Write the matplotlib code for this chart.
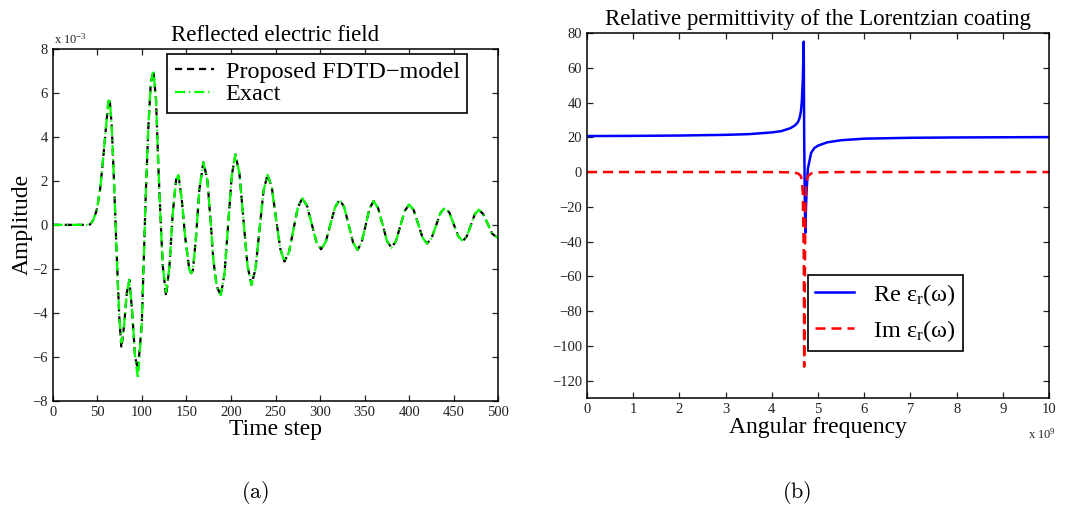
import matplotlib
matplotlib.use("Agg")
import matplotlib.pyplot as plt

plt.rcParams["font.family"] = ["Liberation Serif", "DejaVu Serif"]
plt.rcParams["mathtext.fontset"] = "custom"
plt.rcParams["mathtext.rm"] = "Liberation Serif"
plt.rcParams["mathtext.it"] = "Liberation Serif:italic"
plt.rcParams["axes.linewidth"] = 1.1

# (a) reflected field, amplitude in units of 1e-3
TIME_STEP = [
    0, 20, 40, 42, 45.6, 49.4, 53.1, 56.8, 59.8, 62.4, 63.8, 66.2, 68.8,
    71.0, 73.0, 74.7, 77.0, 80.0, 83.1, 86.0, 89.0, 92.4, 95.6, 99.9,
    102.5, 104.4, 107.3, 110.0, 112.9, 115.9, 118.5, 121.2, 123.5, 127.2,
    130.9, 134.7, 138.4, 141.0, 144.8, 148.5, 153.3, 155.4, 157.3, 160.8,
    164.5, 169.0, 173.5, 177.3, 180.2, 184.0, 188.5, 192.6, 196.8, 200.9,
    205.0, 209.5, 214.0, 218.5, 223.0, 227.5, 232.0, 236.5, 241.0, 245.8,
    250.5, 255.3, 260.0, 265, 270, 275, 280, 285.3, 290.5, 295.8, 301,
    306.3, 311.5, 316.8, 322, 327, 332, 337, 342, 346.5, 351, 355.5, 360,
    365, 370, 375, 380, 385, 390, 395, 400, 405, 410, 415, 420, 425, 430,
    435, 440, 445, 450, 455, 460, 464.5, 469, 473.5, 478, 483, 488, 493, 500,
]
AMP_FDTD = [
    0, 0, 0, 0.02, 0.23, 0.68, 1.6, 3.1, 4.47, 5.6, 5.75, 4.5, 1.9,
    -0.53, -2.6, -4.2, -5.6, -4.6, -3.1, -2.5, -3.9, -6.0, -6.6, -4.5,
    -1.1, 1.45, 4.47, 6.44, 7.0, 5.68, 2.65, 0.07, -1.9, -3.25,
    -1.9, 0.54, 2.05, 2.27, 1.14, -0.53, -2.05, -2.2, -2.05, -0.53,
    1.6, 2.85, 2.05, 0.07, -1.6, -2.8, -3.2, -2.26, 0, 2.26,
    3.2, 2.33, 0.24, -1.86, -2.73, -2.0, -0.22, 1.55, 2.28, 1.70,
    0.3, -1.09, -1.67, -1.25, -0.23, 0.79, 1.21, 0.87, 0.05, -0.77, -1.11,
    -0.78, 0.02, 0.81, 1.14, 0.81, 0, -0.81, -1.14, -0.81, -0.03, 0.75, 1.08,
    0.77, 0.02, -0.73, -1.04, -0.75, -0.05, 0.64, 0.93, 0.67, 0.04, -0.59, -0.85, -0.61, -0.04,
    0.54, 0.78, 0.56, 0.02, -0.52, -0.74, -0.53, -0.03, 0.48, 0.69, 0.49, 0.05, -0.4, -0.62,
]
AMP_EXACT = [
    0, 0, 0, 0.02, 0.23, 0.68, 1.6, 3.1, 4.47, 5.6, 5.75, 4.5, 1.9,
    -0.53, -2.6, -4.2, -5.35, -4.6, -3.1, -2.5, -3.9, -6.0, -7.0, -4.5,
    -1.1, 1.45, 4.47, 6.44, 7.05, 5.68, 2.65, 0.07, -1.9, -3.05,
    -1.9, 0.54, 2.05, 2.27, 1.14, -0.53, -2.05, -2.2, -2.05, -0.53,
    1.6, 2.85, 2.05, 0.07, -1.6, -2.8, -3.2, -2.26, 0, 2.26,
    3.2, 2.33, 0.24, -1.86, -2.73, -2.0, -0.22, 1.55, 2.28, 1.70,
    0.3, -1.09, -1.67, -1.25, -0.23, 0.79, 1.21, 0.87, 0.05, -0.77, -1.11,
    -0.78, 0.02, 0.81, 1.14, 0.81, 0, -0.81, -1.14, -0.81, -0.03, 0.75, 1.08,
    0.77, 0.02, -0.73, -1.04, -0.75, -0.05, 0.64, 0.93, 0.67, 0.04, -0.59, -0.85, -0.61, -0.04,
    0.54, 0.78, 0.56, 0.02, -0.52, -0.74, -0.53, -0.03, 0.48, 0.69, 0.49, 0.05, -0.4, -0.62,
]

# (b) Lorentzian permittivity, frequency in units of 1e9
FREQ = [0, 1, 2, 3, 3.5, 4, 4.2, 4.4, 4.5, 4.56, 4.6, 4.63, 4.65, 4.67, 4.69,
        4.70, 4.715, 4.725, 4.735, 4.75, 4.78, 4.85, 4.92, 5.0, 5.2, 5.5, 6,
        7, 8, 9, 10]
EPS_RE = [20.7, 20.8, 21.0, 21.4, 21.8, 22.8, 23.5, 25.2, 26.8, 28.5, 31, 35,
          41, 53, 75, 20, -20, -35, -24, -12, 2, 11, 13.8, 15.2, 17.1, 18.3,
          19.2, 19.7, 19.9, 20.0, 20.1]
EPS_IM = [0, 0, 0, 0, 0, -0.05, -0.1, -0.2, -0.4, -0.8, -1.5, -2.5, -5, -12,
          -45, -112, -60, -25, -12, -6, -2.5, -0.8, -0.4, -0.2, -0.1, -0.05,
          0, 0, 0, 0, 0]


def style_axes(ax):
    ax.tick_params(direction="in", top=True, right=True, length=4.5,
                   width=0.9, labelsize=10.5, colors="#222222")
    for spine in ax.spines.values():
        spine.set_color("black")


fig = plt.figure(figsize=(10.72, 5.13), dpi=100)

# ---- left panel
ax1 = fig.add_axes([0.0492, 0.2189, 0.4157, 0.6856])
ax1.plot(TIME_STEP, AMP_FDTD, color="black", linestyle="--", dashes=(3.2, 2.2),
         linewidth=1.6, label="Proposed FDTD\u2212model")
ax1.plot(TIME_STEP, AMP_EXACT, color="#00ff00", linestyle="-.",
         dashes=(4.5, 1.8, 0.6, 1.8), linewidth=1.6, label="Exact")
ax1.set_xlim(0, 500)
ax1.set_ylim(-8, 8)
ax1.set_xticks(range(0, 501, 50))
ax1.set_yticks(range(-8, 9, 2))
style_axes(ax1)
ax1.set_title("Reflected electric field", fontsize=16.5, pad=6)
ax1.set_xlabel("Time step", fontsize=17, labelpad=0)
ax1.set_ylabel("Amplitude", fontsize=17, labelpad=0)
ax1.text(0.003, 1.008, r"x 10$^{-3}$", transform=ax1.transAxes,
         fontsize=9, ha="left", va="bottom", color="#222222")
ax1.legend(loc="upper right", bbox_to_anchor=(0.93, 0.987), borderaxespad=0,
           fontsize=17.5, fancybox=False, edgecolor="black", framealpha=1,
           handlelength=1.6, handletextpad=0.5, labelspacing=0.02,
           borderpad=0.3).get_frame().set_linewidth(1.2)

# ---- right panel
ax2 = fig.add_axes([0.5476, 0.2242, 0.431, 0.7115])
ax2.plot(FREQ, EPS_RE, color="#0000ff", linewidth=1.8,
         label="Re \u03b5$_\\mathrm{r}$(\u03c9)")
ax2.plot(FREQ, EPS_IM, color="#ff0000", linestyle="--", dashes=(4, 2.4),
         linewidth=1.8, label="Im \u03b5$_\\mathrm{r}$(\u03c9)")
ax2.set_xlim(0, 10)
ax2.set_ylim(-130, 80)
ax2.set_xticks(range(0, 11))
ax2.set_yticks(range(-120, 81, 20))
style_axes(ax2)
ax2.set_title("Relative permittivity of the Lorentzian coating",
              fontsize=16.5, pad=6)
ax2.set_xlabel("Angular frequency", fontsize=17, labelpad=1)
ax2.text(1.015, -0.1, r"x 10$^{9}$", transform=ax2.transAxes,
         fontsize=9, ha="right", va="center", color="#222222")
ax2.legend(loc="lower right", bbox_to_anchor=(0.814, 0.129), borderaxespad=0,
           fontsize=17.5, fancybox=False, edgecolor="black", framealpha=1,
           handlelength=1.6, handletextpad=0.8, labelspacing=0.4,
           borderpad=0.3).get_frame().set_linewidth(1.2)

# captions
fig.text(255 / 1072, 1 - 493 / 513, r"$\mathrm{(a)}$", fontsize=16,
         ha="center", va="center", math_fontfamily="cm")
fig.text(797 / 1072, 1 - 493 / 513, r"$\mathrm{(b)}$", fontsize=16,
         ha="center", va="center", math_fontfamily="cm")

fig.savefig("out.png", dpi=100)
